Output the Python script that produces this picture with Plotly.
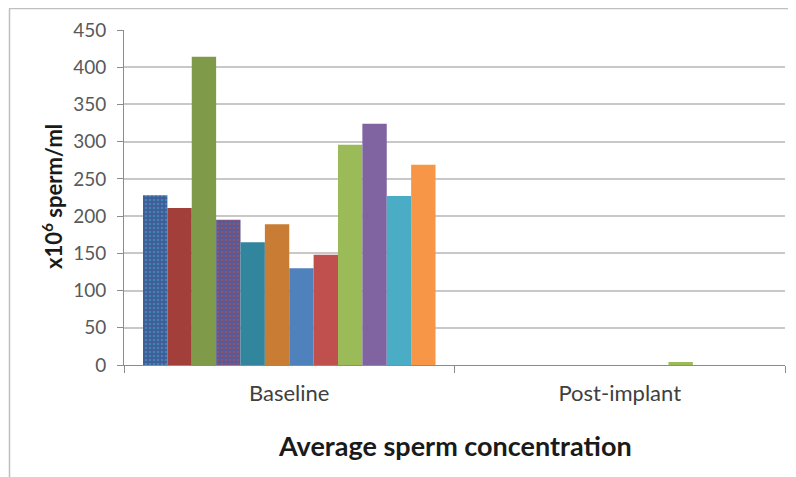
import plotly.graph_objects as go

categories = ["Baseline", "Post-implant"]
series_names = [f"Subject {i}" for i in range(1, 13)]
baseline = [228, 211, 414, 195, 165, 189, 130, 148, 296, 324, 227, 269]
post_implant = [0, 0, 0, 0, 0, 0, 0, 0, 4, 0, 0, 0]
colors = ["#3F5B98", "#A33F3B", "#7F9A48", "#575A97", "#31859C", "#C97D34",
          "#4F81BD", "#C0504D", "#9BBB59", "#8064A2", "#4BACC6", "#F79646"]
patterns = {0: "#4BACC6", 3: "#C0504D"}

OFF = 8  # page body margin
W, H = 796 - OFF, 477 - OFF
L, R, T, B = 124 - OFF, 11, 30 - OFF, 112
pw, ph = W - L - R, H - T - B
y0px = 365 - OFF  # pixel row of the x axis inside the figure

fig = go.Figure()
for i, name in enumerate(series_names):
    marker = dict(color=colors[i], line=dict(width=0))
    if i in patterns:
        marker["pattern"] = dict(shape=".", fgcolor=patterns[i], bgcolor=colors[i],
                                 size=4, solidity=0.35, fillmode="overlay")
    fig.add_trace(go.Bar(x=categories, y=[baseline[i], post_implant[i]],
                         name=name, marker=marker))

fig.update_layout(
    width=W, height=H,
    margin=dict(l=L, r=R, t=T, b=B),
    barmode="group", bargap=0.115, bargroupgap=0,
    plot_bgcolor="white", paper_bgcolor="white",
    showlegend=False,
    font=dict(family="Lato, Open Sans, sans-serif", color="#595959"),
    xaxis=dict(showline=True, linecolor="#8c8c8c", linewidth=1,
               ticks="outside", tickson="boundaries", ticklen=7, tickcolor="#8c8c8c",
               ticklabelstandoff=9,
               tickfont=dict(size=22, color="#404040"), showgrid=False),
    yaxis=dict(range=[0, 450], dtick=50, showline=True, linecolor="#8c8c8c",
               ticks="outside", ticklen=6, tickcolor="#8c8c8c",
               ticklabelstandoff=7,
               tickfont=dict(size=19, color="#595959"),
               showgrid=True, gridcolor="#c8c8c8", gridwidth=1.5, zeroline=False),
    annotations=[
        dict(text="<b>Average sperm concentration</b>", xref="paper", yref="paper",
             x=0.5, y=(y0px - (445 - OFF)) / ph, xanchor="center", yanchor="middle",
             showarrow=False, font=dict(size=27, color="#1a1a1a")),
        dict(text="<b>x10<sup>6</sup> sperm/ml</b>", xref="paper", yref="paper",
             x=((52 - OFF) - L) / pw, y=(y0px - (197 - OFF)) / ph, xanchor="center", yanchor="middle",
             textangle=-90, showarrow=False, font=dict(size=22, color="#1a1a1a")),
    ],
    shapes=[
        dict(type="line", xref="paper", yref="paper", x0=(1 - L) / pw, x1=(W - L) / pw,
             y0=(y0px - 0.5) / ph, y1=(y0px - 0.5) / ph, line=dict(color="#bfbfbf", width=1.5)),
        dict(type="line", xref="paper", yref="paper", x0=(1.5 - L) / pw, x1=(1.5 - L) / pw,
             y0=(y0px - 0.5) / ph, y1=(y0px - H) / ph, line=dict(color="#bfbfbf", width=1.5)),
    ],
)

fig.write_html("out.html")
